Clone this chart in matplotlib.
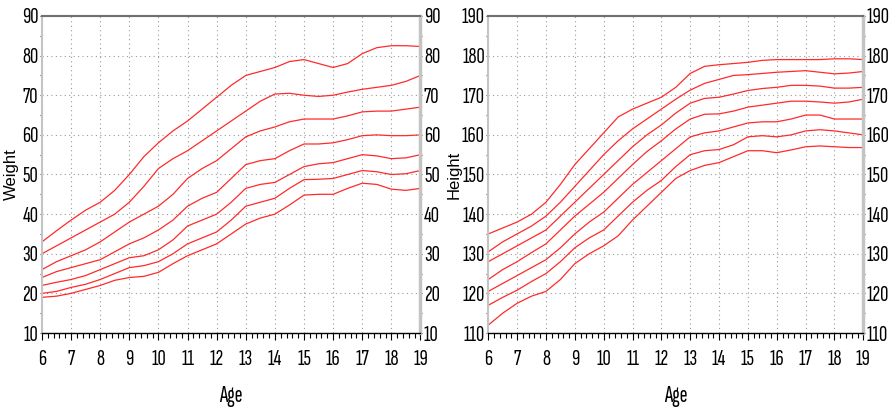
import matplotlib
matplotlib.use("Agg")
import matplotlib.pyplot as plt
from matplotlib.ticker import MultipleLocator

# ages at half-year steps
ages = [6, 6.5, 7, 7.5, 8, 8.5, 9, 9.5, 10, 10.5, 11, 11.5, 12, 12.5,
        13, 13.5, 14, 14.5, 15, 15.5, 16, 16.5, 17, 17.5, 18, 18.5, 19]

# weight percentile curves, top to bottom
weight_p1 = [33, 35.8, 38.5, 41, 43, 46, 50, 54.5, 58, 61, 63.5, 66.5, 69.5, 72.5,
             75, 76, 77, 78.5, 79, 78, 77, 78, 80.5, 82, 82.5, 82.5, 82.3]
weight_p2 = [30, 32, 34, 36, 38, 40, 43, 47, 51.5, 54, 56, 58.5, 61, 63.5,
             66, 68.5, 70.3, 70.5, 70, 69.7, 70, 70.8, 71.5, 72, 72.5, 73.5, 75]
weight_p3 = [26, 28, 29.5, 31, 33, 35.5, 38, 40, 42, 45, 49, 51.5, 53.5, 56.5,
             59.5, 61, 62, 63.3, 64, 64, 64, 64.8, 65.8, 66, 66, 66.5, 67]
weight_p4 = [24, 25.5, 26.5, 27.5, 28.5, 30.5, 32.5, 34, 36, 38.5, 42, 44, 45.5, 49,
             52.5, 53.5, 54, 56, 57.7, 57.7, 58, 58.8, 59.8, 60, 59.8, 59.8, 60]
weight_p5 = [22, 22.8, 23.5, 24.5, 26, 27.5, 29, 29.5, 31, 33.5, 37, 38.5, 40, 43,
             46.5, 47.5, 48, 50, 52, 52.7, 53, 54, 55, 54.7, 54, 54.2, 55]
weight_p6 = [20, 20.5, 21.5, 22.3, 23.5, 25, 26.5, 27, 28, 30, 32.5, 34, 35.5, 38.5,
             42, 43, 44, 46.5, 48.7, 48.8, 49, 50, 51, 50.7, 50, 50.2, 51]
weight_p7 = [19, 19.3, 20, 21, 22, 23.3, 24, 24.3, 25.3, 27.5, 29.5, 31, 32.5, 35,
             37.5, 39, 40, 42.3, 44.8, 45, 45, 46.5, 47.8, 47.5, 46.3, 46, 46.5]

# height percentile curves, top to bottom
height_p1 = [135, 136.5, 138, 140, 143, 147.5, 152.5, 156.5, 160.5, 164.5, 166.5, 168, 169.5, 172,
             175.5, 177.3, 177.7, 178, 178.3, 178.8, 179, 179, 179, 179, 179.2, 179.2, 179]
height_p2 = [130.5, 133, 135, 137, 139.5, 143, 147, 151, 155, 158.5, 161.5, 164, 166.5, 169,
             171.3, 173, 174, 175, 175.2, 175.5, 175.8, 176, 176.2, 175.8, 175.4, 175.6, 176]
height_p3 = [128, 130, 132, 134, 136, 139.5, 143, 146.5, 150, 153.5, 157, 160, 162.5, 165.5,
             168, 169.2, 169.5, 170.3, 171.2, 171.7, 172, 172.5, 172.5, 172.3, 171.8, 171.8, 172]
height_p4 = [123.5, 126, 128, 130.3, 132.5, 136, 139.5, 142.5, 145.5, 149, 152.5, 155.8, 158.5, 161.5,
             164, 165.2, 165.3, 166, 167, 167.5, 168, 168.5, 168.5, 168.3, 168, 168.3, 169]
height_p5 = [120.5, 122.5, 124.5, 126.5, 128.5, 131.5, 135, 138, 140.5, 144, 147.5, 150.5, 153.5, 156.5,
             159.5, 160.5, 161, 162, 163, 163.3, 163.3, 164, 165, 165, 164, 164, 164]
height_p6 = [117, 119, 120.8, 123, 125, 128, 131.5, 134, 136, 139.5, 143, 146, 148.5, 152,
             155, 156, 156.3, 157.5, 159.5, 159.8, 159.5, 160, 161, 161.3, 161, 160.5, 160]
height_p7 = [112, 115, 117.5, 119.3, 120.5, 123.5, 127.5, 130, 132, 134.5, 138.5, 142, 145.5, 149,
             151, 152.3, 153, 154.5, 156, 156, 155.5, 156.2, 157, 157.2, 157, 156.8, 156.8]

weight_curves = [weight_p1, weight_p2, weight_p3, weight_p4, weight_p5, weight_p6, weight_p7]
height_curves = [height_p1, height_p2, height_p3, height_p4, height_p5, height_p6, height_p7]

NARROW = ["Sofia Sans Extra Condensed", "DejaVu Sans"]
WIDE = ["Liberation Sans", "DejaVu Sans"]


def style_axes(ax, ylim, ylabel, ylabel_x):
    ax.set_xlim(6, 19)
    ax.set_ylim(*ylim)
    ax.xaxis.set_major_locator(MultipleLocator(1))
    ax.xaxis.set_minor_locator(MultipleLocator(0.2))
    ax.yaxis.set_major_locator(MultipleLocator(10))
    ax.yaxis.set_minor_locator(MultipleLocator(5))
    ax.grid(True, which="major", linestyle=(0, (1, 3)), color="#9a9a9a", linewidth=0.8)
    ax.set_axisbelow(True)

    ax.spines["top"].set_color("#707070")
    ax.spines["top"].set_linewidth(1.5)
    ax.spines["bottom"].set_color("black")
    ax.spines["bottom"].set_linewidth(1.0)
    ax.spines["left"].set_color("#c4c4c4")
    ax.spines["left"].set_linewidth(1.5)
    ax.spines["right"].set_color("#c4c4c4")
    ax.spines["right"].set_linewidth(2.5)

    ax.tick_params(axis="x", which="major", direction="out", length=5, width=0.8,
                   color="black", pad=7, labelsize=16.5)
    ax.tick_params(axis="x", which="minor", direction="out", length=3.5, width=0.8,
                   color="black")
    ax.tick_params(axis="y", which="both", direction="out", length=1.5, width=0.8,
                   color="#404040", left=True, right=True, labelleft=True,
                   labelright=True, pad=1.0, labelsize=16.5)
    for lab in ax.get_xticklabels() + ax.get_yticklabels():
        lab.set_family(NARROW)

    ax.set_xlabel("Age", family=NARROW, fontsize=17)
    ax.xaxis.set_label_coords(0.5, -0.199)
    ax.xaxis.label.set_va("center")
    ax.set_ylabel(ylabel, family=WIDE, fontsize=12)
    ax.yaxis.set_label_coords(ylabel_x, 0.5)
    ax.yaxis.label.set_va("center")


fig = plt.figure(figsize=(8.91, 4.09), dpi=100)
ax_w = fig.add_axes([0.0471, 0.1858, 0.4248, 0.7751])
ax_h = fig.add_axes([0.5480, 0.1858, 0.4209, 0.7751])

for curve in weight_curves:
    ax_w.plot(ages, curve, color="#ff2a2a", linewidth=0.9)
for curve in height_curves:
    ax_h.plot(ages, curve, color="#ff2a2a", linewidth=0.9)

style_axes(ax_w, (10, 90), "Weight", -0.08)
style_axes(ax_h, (110, 190), "Height", -0.092)

fig.savefig("out.png", dpi=100)
